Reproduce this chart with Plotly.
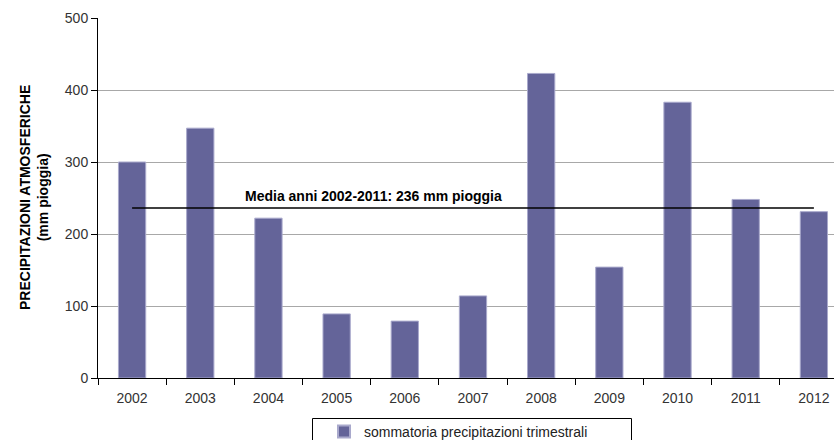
import plotly.graph_objects as go

# Quarterly rainfall totals by year (mm)
anni = ["2002", "2003", "2004", "2005", "2006", "2007", "2008", "2009", "2010", "2011", "2012"]
precipitazioni = [300, 347, 222, 89, 79, 114, 423, 154, 383, 248, 231]

# Average over 2002-2011
media = 236
media_label = "Media anni 2002-2011: 236 mm pioggia"

y_ticks = [0, 100, 200, 300, 400, 500]

font_family = "Liberation Sans, Arial, sans-serif"

# page geometry (pixels)
W, H = 834, 440
ML, MT, MB = 98, 18, 62
PW, PH = W - ML, H - MT - MB


def px_x(px):
    return (px - ML) / PW


def px_y(py):
    return (H - MB - py) / PH


fig = go.Figure()

fig.add_trace(go.Bar(
    x=anni,
    y=precipitazioni,
    name="sommatoria precipitazioni trimestrali",
    marker=dict(color="#646499", line=dict(color="#a9a9cc", width=1)),
    width=0.4,
))

fig.add_trace(go.Scatter(
    x=[anni[0], anni[-1]],
    y=[media, media],
    mode="lines",
    line=dict(color="black", width=1.5),
    showlegend=False,
    hoverinfo="skip",
))

fig.add_annotation(
    x=1.63, y=media, xref="x", yref="y",
    text="<b>" + media_label + "</b>",
    showarrow=False, xanchor="left", yanchor="bottom", yshift=2,
    font=dict(family=font_family, size=14, color="black"),
)

fig.add_annotation(
    x=px_x(34), y=0.5, xref="paper", yref="paper", xanchor="center", yanchor="middle",
    text="<b>PRECIPITAZIONI ATMOSFERICHE<br>(mm pioggia)</b>",
    showarrow=False, textangle=-90,
    font=dict(family=font_family, size=14, color="black"),
)

# frame around the legend
fig.add_shape(
    type="rect", xref="paper", yref="paper",
    x0=px_x(312.5), x1=px_x(631.5), y0=px_y(418.5), y1=px_y(448),
    line=dict(color="black", width=1), fillcolor="rgba(0,0,0,0)",
    layer="above",
)

fig.update_layout(
    width=W, height=H,
    margin=dict(l=ML, r=0, t=MT, b=MB, autoexpand=False),
    plot_bgcolor="white", paper_bgcolor="white",
    font=dict(family=font_family, size=14, color="#333333"),
    bargap=0.6,
    showlegend=True,
    legend=dict(
        orientation="h",
        yref="container", xref="container",
        x=324 / W, y=1 - 416 / H, xanchor="left", yanchor="top",
        bgcolor="rgba(0,0,0,0)", borderwidth=0,
        font=dict(family=font_family, size=14, color="#222222"),
        itemsizing="constant",
    ),
    xaxis=dict(
        type="category",
        range=[-0.5, 10.295],
        showline=True, linecolor="black", linewidth=1,
        ticks="outside", tickson="boundaries", ticklen=6, tickcolor="black",
        ticklabelstandoff=7,
        showgrid=False,
        tickfont=dict(size=14, color="#333333"),
    ),
    yaxis=dict(
        range=[0, 500],
        tickvals=y_ticks,
        showline=True, linecolor="black", linewidth=1,
        ticks="outside", ticklen=6, tickcolor="black",
        showgrid=True, gridcolor="#a8a8a8", gridwidth=1,
        zeroline=False,
        tickfont=dict(size=14, color="#333333"),
    ),
)

fig.write_html("out.html")
